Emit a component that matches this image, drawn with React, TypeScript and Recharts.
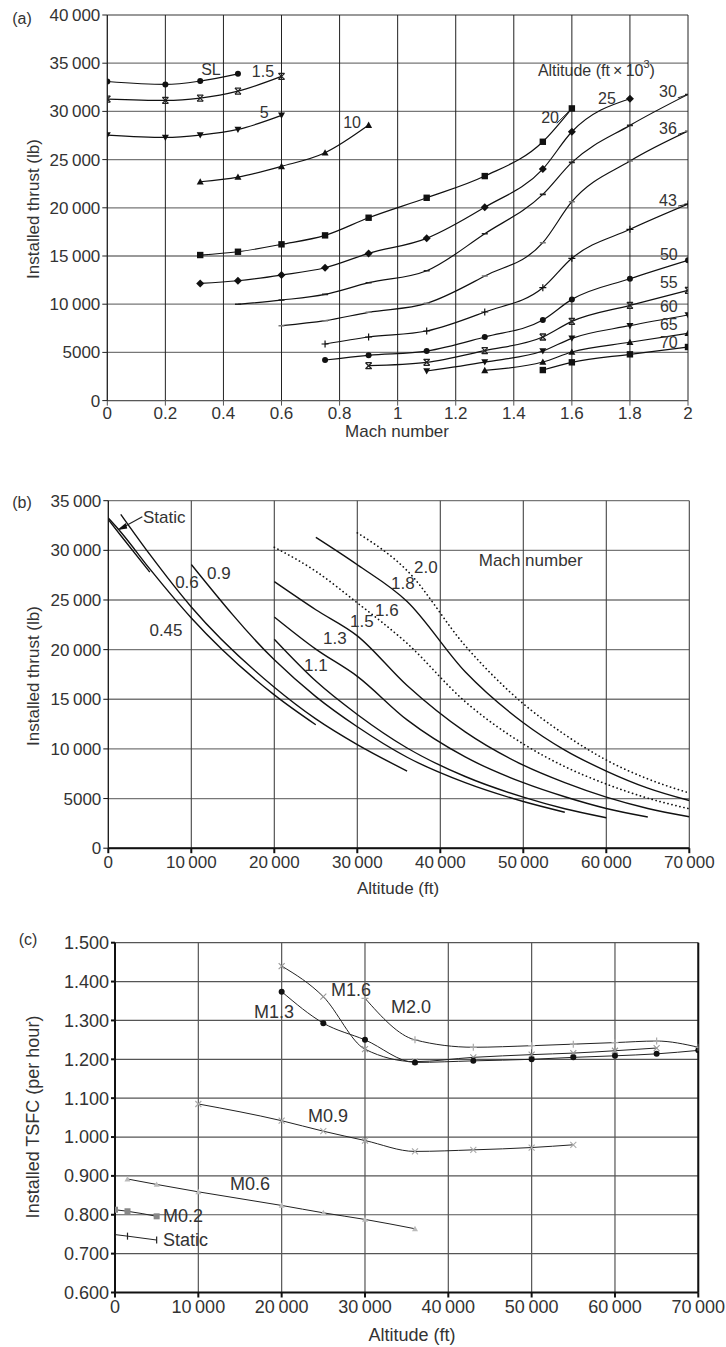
import React from 'react';
import { LineChart, Line, XAxis, YAxis, CartesianGrid, ReferenceDot, ReferenceLine, Customized } from 'recharts';

const FONT = "'Liberation Sans', Arial, sans-serif";
const TXT = '#333';

// ---------- Panel (a): thrust vs Mach, per altitude ----------
const A_MACH_TICKS = [0, 0.2, 0.4, 0.6, 0.8, 1, 1.2, 1.4, 1.6, 1.8, 2];
const A_THRUST_TICKS = [0, 5000, 10000, 15000, 20000, 25000, 30000, 35000, 40000];

const A_SL_MACH = [0, 0.2, 0.32, 0.45];
const A_SL_THRUST = [33100, 32800, 33150, 33900];
const A_1_5_MACH = [0, 0.2, 0.32, 0.45, 0.6];
const A_1_5_THRUST = [31280, 31140, 31380, 32100, 33630];
const A_5_MACH = [0, 0.2, 0.32, 0.45, 0.6];
const A_5_THRUST = [27540, 27300, 27540, 28130, 29590];
const A_10_MACH = [0.32, 0.45, 0.6, 0.75, 0.9];
const A_10_THRUST = [22700, 23190, 24300, 25710, 28580];
const A_20_MACH = [0.32, 0.45, 0.6, 0.75, 0.9, 1.1, 1.3, 1.5, 1.6];
const A_20_THRUST = [15100, 15440, 16210, 17140, 18970, 21040, 23290, 26850, 30310];
const A_25_MACH = [0.32, 0.45, 0.6, 0.75, 0.9, 1.1, 1.3, 1.5, 1.6, 1.8];
const A_25_THRUST = [12160, 12430, 13020, 13780, 15270, 16830, 20050, 24020, 27890, 31310];
const A_30_MACH = [0.45, 0.6, 0.75, 0.9, 1.1, 1.3, 1.5, 1.6, 1.8, 2.0];
const A_30_THRUST = [9990, 10430, 11020, 12230, 13470, 17310, 21390, 24710, 28550, 31760];
const A_36_MACH = [0.6, 0.75, 0.9, 1.1, 1.3, 1.5, 1.6, 1.8, 2.0];
const A_36_THRUST = [7770, 8290, 9160, 10090, 12920, 16380, 20630, 24850, 27960];
const A_43_MACH = [0.75, 0.9, 1.1, 1.3, 1.5, 1.6, 1.8, 2.0];
const A_43_THRUST = [5870, 6600, 7220, 9190, 11710, 14760, 17770, 20390];
const A_50_MACH = [0.75, 0.9, 1.1, 1.3, 1.5, 1.6, 1.8, 2.0];
const A_50_THRUST = [4210, 4700, 5140, 6600, 8360, 10500, 12640, 14550];
const A_55_MACH = [0.9, 1.1, 1.3, 1.5, 1.6, 1.8, 2.0];
const A_55_THRUST = [3620, 3970, 5180, 6600, 8220, 9880, 11440];
const A_60_MACH = [1.1, 1.3, 1.5, 1.6, 1.8, 2.0];
const A_60_THRUST = [3070, 4000, 5140, 6460, 7770, 8880];
const A_65_MACH = [1.3, 1.5, 1.6, 1.8, 2.0];
const A_65_THRUST = [3140, 4000, 5040, 6050, 6980];
const A_70_MACH = [1.5, 1.6, 1.8, 2.0];
const A_70_THRUST = [3170, 3970, 4800, 5560];

// ---------- Panel (b): thrust vs altitude, per Mach ----------
const B_ALT_TICKS = [0, 10000, 20000, 30000, 40000, 50000, 60000, 70000];
const B_THRUST_TICKS = [0, 5000, 10000, 15000, 20000, 25000, 30000, 35000];

const B_STATIC_ALT = [0, 1500, 5000];
const B_STATIC_THRUST = [33100, 31500, 27800];
const B_045_ALT = [0, 1500, 5000, 10000, 20000, 25000];
const B_045_THRUST = [33250, 31850, 28130, 23190, 15440, 12430];
const B_06_ALT = [1500, 5000, 10000, 20000, 25000, 30000, 36000];
const B_06_THRUST = [33630, 29590, 24300, 16210, 13020, 10430, 7770];
const B_09_ALT = [10000, 20000, 25000, 30000, 36000, 43000, 50000, 55000];
const B_09_THRUST = [28580, 18970, 15270, 12230, 9160, 6600, 4700, 3620];
const B_11_ALT = [20000, 25000, 30000, 36000, 43000, 50000, 55000, 60000];
const B_11_THRUST = [21040, 16830, 13470, 10090, 7220, 5140, 3970, 3070];
const B_13_ALT = [20000, 25000, 30000, 36000, 43000, 50000, 55000, 60000, 65000];
const B_13_THRUST = [23290, 20050, 17310, 12920, 9190, 6600, 5180, 4000, 3140];
const B_15_ALT = [20000, 25000, 30000, 36000, 43000, 50000, 55000, 60000, 65000, 70000];
const B_15_THRUST = [26850, 24020, 21390, 16380, 11710, 8360, 6600, 5140, 4000, 3170];
const B_16_ALT = [20000, 25000, 30000, 36000, 43000, 50000, 55000, 60000, 65000, 70000];
const B_16_THRUST = [30310, 27890, 24710, 20630, 14760, 10500, 8220, 6460, 5040, 3970];
const B_18_ALT = [25000, 30000, 36000, 43000, 50000, 55000, 60000, 65000, 70000];
const B_18_THRUST = [31310, 28550, 24850, 17770, 12640, 9880, 7770, 6050, 4800];
const B_20_ALT = [30000, 36000, 43000, 50000, 55000, 60000, 65000, 70000];
const B_20_THRUST = [31760, 27960, 20390, 14550, 11440, 8880, 6980, 5560];

// ---------- Panel (c): TSFC vs altitude ----------
const C_ALT_TICKS = [0, 10000, 20000, 30000, 40000, 50000, 60000, 70000];
const C_TSFC_TICKS = [0.6, 0.7, 0.8, 0.9, 1.0, 1.1, 1.2, 1.3, 1.4, 1.5];

const C_M16_ALT = [20000, 25000, 30000, 36000, 43000, 50000, 55000, 60000, 65000];
const C_M16_TSFC = [1.44, 1.361, 1.226, 1.194, 1.205, 1.212, 1.216, 1.222, 1.229];
const C_M13_ALT = [20000, 25000, 30000, 36000, 43000, 50000, 55000, 60000, 65000, 70000];
const C_M13_TSFC = [1.374, 1.293, 1.25, 1.192, 1.196, 1.2, 1.205, 1.209, 1.214, 1.223];
const C_M20_ALT = [30000, 36000, 43000, 50000, 55000, 60000, 65000, 70000];
const C_M20_TSFC = [1.357, 1.25, 1.231, 1.235, 1.239, 1.243, 1.247, 1.231];
const C_M09_ALT = [10000, 20000, 25000, 30000, 36000, 43000, 50000, 55000];
const C_M09_TSFC = [1.085, 1.042, 1.015, 0.991, 0.963, 0.967, 0.973, 0.98];
const C_M06_ALT = [1500, 5000, 10000, 20000, 25000, 30000, 36000];
const C_M06_TSFC = [0.892, 0.878, 0.859, 0.824, 0.805, 0.788, 0.764];
const C_M02_ALT = [0, 1500, 5000];
const C_M02_TSFC = [0.813, 0.809, 0.796];
const C_STATIC_ALT = [0, 1500, 5000];
const C_STATIC_TSFC = [0.749, 0.745, 0.735];

// ---------- helpers ----------
const pts = (xs: number[], ys: number[]) => xs.map((x, i) => ({ x, y: ys[i] }));

const fmtK = (v: number) =>
  v >= 10000 ? `${Math.floor(v / 1000)}\u2009${String(v % 1000).padStart(3, '0')}` : String(v);

type Kind = 'circle' | 'star' | 'triDown' | 'triUp' | 'square' | 'diamond' | 'dash' | 'plus' | 'cross' | 'vbar' | 'none';

function marker(kind: Kind, cx: number, cy: number, c: string, s: number) {
  switch (kind) {
    case 'circle':
      return <circle cx={cx} cy={cy} r={s} fill={c} />;
    case 'star':
      return (
        <g stroke={c} strokeWidth={1.3}>
          <line x1={cx - s} y1={cy - s} x2={cx + s} y2={cy + s} />
          <line x1={cx - s} y1={cy + s} x2={cx + s} y2={cy - s} />
          <line x1={cx - s} y1={cy - s} x2={cx + s} y2={cy - s} />
          <line x1={cx - s} y1={cy + s} x2={cx + s} y2={cy + s} />
        </g>
      );
    case 'triDown':
      return <polygon points={`${cx - s},${cy - s * 0.8} ${cx + s},${cy - s * 0.8} ${cx},${cy + s}`} fill={c} />;
    case 'triUp':
      return <polygon points={`${cx - s},${cy + s * 0.8} ${cx + s},${cy + s * 0.8} ${cx},${cy - s}`} fill={c} />;
    case 'square':
      return <rect x={cx - s} y={cy - s} width={2 * s} height={2 * s} fill={c} />;
    case 'diamond':
      return <polygon points={`${cx},${cy - s} ${cx + s},${cy} ${cx},${cy + s} ${cx - s},${cy}`} fill={c} />;
    case 'dash':
      return <line x1={cx - s} y1={cy} x2={cx + s} y2={cy} stroke={c} strokeWidth={1.6} />;
    case 'plus':
      return (
        <g stroke={c} strokeWidth={1.2}>
          <line x1={cx - s} y1={cy} x2={cx + s} y2={cy} />
          <line x1={cx} y1={cy - s} x2={cx} y2={cy + s} />
        </g>
      );
    case 'cross':
      return (
        <g stroke={c} strokeWidth={1.1}>
          <line x1={cx - s} y1={cy - s} x2={cx + s} y2={cy + s} />
          <line x1={cx - s} y1={cy + s} x2={cx + s} y2={cy - s} />
        </g>
      );
    case 'vbar':
      return <line x1={cx} y1={cy - s} x2={cx} y2={cy + s} stroke={c} strokeWidth={1.2} />;
    default:
      return null;
  }
}

const dotOf = (kind: Kind, color: string, s: number) => (p: any) => (
  <g key={`${kind}-${p.index}-${p.cx}`}>{marker(kind, p.cx, p.cy, color, s)}</g>
);

function tag(key: string, x: number, y: number, text: React.ReactNode, size: number, anchor: 'start' | 'middle' | 'end' = 'middle') {
  return (
    <ReferenceDot
      key={key}
      x={x}
      y={y}
      r={0}
      ifOverflow="visible"
      shape={(p: any) => (
        <text
          x={p.cx}
          y={p.cy}
          textAnchor={anchor}
          dominantBaseline="central"
          fontSize={size}
          fontFamily={FONT}
          fill={TXT}
        >
          {text}
        </text>
      )}
    />
  );
}

function seg(key: string, x1: number, y1: number, x2: number, y2: number, w = 1) {
  return (
    <ReferenceLine
      key={key}
      segment={[{ x: x1, y: y1 }, { x: x2, y: y2 }]}
      stroke="#222"
      strokeWidth={w}
      ifOverflow="visible"
    />
  );
}

const Texts = ({ items }: { items: { x: number; y: number; t: React.ReactNode; s: number; r?: boolean }[] }) => (
  <g>
    {items.map((it, i) => (
      <text
        key={i}
        x={it.x}
        y={it.y}
        textAnchor="middle"
        dominantBaseline="central"
        fontSize={it.s}
        fontFamily={FONT}
        fill={TXT}
        transform={it.r ? `rotate(-90 ${it.x} ${it.y})` : undefined}
      >
        {it.t}
      </text>
    ))}
  </g>
);

const tickA = { fontSize: 17, fill: TXT, fontFamily: FONT };
const tickC = { fontSize: 18, fill: TXT, fontFamily: FONT };

// ---------- Chart (a) ----------
function ChartA() {
  const series: [number[], number[], Kind, string, number][] = [
    [A_SL_MACH, A_SL_THRUST, 'circle', '#111', 3],
    [A_1_5_MACH, A_1_5_THRUST, 'star', '#222', 3],
    [A_5_MACH, A_5_THRUST, 'triDown', '#111', 3.5],
    [A_10_MACH, A_10_THRUST, 'triUp', '#111', 3.5],
    [A_20_MACH, A_20_THRUST, 'square', '#111', 3.2],
    [A_25_MACH, A_25_THRUST, 'diamond', '#111', 4],
    [A_30_MACH, A_30_THRUST, 'dash', '#222', 3],
    [A_36_MACH, A_36_THRUST, 'dash', '#777', 3],
    [A_43_MACH, A_43_THRUST, 'plus', '#111', 3.5],
    [A_50_MACH, A_50_THRUST, 'circle', '#111', 3],
    [A_55_MACH, A_55_THRUST, 'star', '#222', 3],
    [A_60_MACH, A_60_THRUST, 'triDown', '#111', 3.5],
    [A_65_MACH, A_65_THRUST, 'triUp', '#111', 3.5],
    [A_70_MACH, A_70_THRUST, 'square', '#111', 3.2],
  ];
  return (
    <LineChart width={726} height={445} margin={{ top: 15, right: 38, bottom: 4.4, left: 7.3 }}>
      <CartesianGrid vertical={false} stroke="#777" strokeWidth={1.3} />
      <CartesianGrid horizontal={false} stroke="#222" strokeWidth={1} />
      <XAxis
        type="number"
        dataKey="x"
        domain={[0, 2]}
        ticks={A_MACH_TICKS}
        tickFormatter={(v: number) => String(Number(v.toFixed(1)))}
        height={40}
        tickSize={5}
        tickMargin={1}
        stroke="#555"
        tick={tickA}
        allowDataOverflow
      />
      <YAxis
        type="number"
        dataKey="y"
        domain={[0, 40000]}
        ticks={A_THRUST_TICKS}
        tickFormatter={fmtK}
        width={100}
        tickSize={5}
        tickMargin={2}
        stroke="#222"
        tick={tickA}
        allowDataOverflow
      />
      {series.map(([xs, ys, k, c, s], i) => (
        <Line
          key={i}
          data={pts(xs, ys)}
          dataKey="y"
          type="monotone"
          stroke="#111"
          strokeWidth={1.2}
          dot={dotOf(k, c, s)}
          activeDot={false}
          isAnimationActive={false}
        />
      ))}
      {tag('sl', 0.357, 34300, 'SL', 16)}
      {tag('l15', 0.536, 34090, '1.5', 16)}
      {tag('l5', 0.54, 29920, '5', 16)}
      {tag('l10', 0.843, 28890, '10', 16)}
      {tag('l20', 1.525, 29410, '20', 16)}
      {tag('l25', 1.721, 31290, '25', 16)}
      {tag('l30', 1.931, 32110, '30', 16)}
      {tag('l36', 1.931, 28270, '36', 16)}
      {tag('l43', 1.931, 20800, '43', 16)}
      {tag('l50', 1.934, 15150, '50', 16)}
      {tag('l55', 1.934, 12250, '55', 16)}
      {tag('l60', 1.934, 9750, '60', 16)}
      {tag('l65', 1.934, 7850, '65', 16)}
      {tag('l70', 1.934, 6050, '70', 16)}
      {tag(
        'alt',
        1.483,
        34290,
        <>
          Altitude (ft{'\u2009'}×{'\u2009'}10<tspan dy={-6} fontSize={11}>3</tspan>
          <tspan dy={6}>)</tspan>
        </>,
        16,
        'start'
      )}
      {seg('s20', 1.548, 28760, 1.6, 30310)}
      {seg('s30', 1.965, 31400, 2.0, 31760)}
      {seg('s36', 1.966, 27620, 2.0, 27960)}
      {seg('s43', 1.966, 20180, 2.0, 20390)}
      <Customized
        component={
          <Texts
            items={[
              { x: 22, y: 18, t: '(a)', s: 16 },
              { x: 33, y: 209, t: 'Installed thrust (lb)', s: 17, r: true },
              { x: 397, y: 431, t: 'Mach number', s: 17 },
            ]}
          />
        }
      />
    </LineChart>
  );
}

// ---------- Chart (b) ----------
function ChartB() {
  const solid: [number[], number[]][] = [
    [B_STATIC_ALT, B_STATIC_THRUST],
    [B_045_ALT, B_045_THRUST],
    [B_06_ALT, B_06_THRUST],
    [B_09_ALT, B_09_THRUST],
    [B_11_ALT, B_11_THRUST],
    [B_13_ALT, B_13_THRUST],
    [B_15_ALT, B_15_THRUST],
    [B_18_ALT, B_18_THRUST],
  ];
  const dotted: [number[], number[]][] = [
    [B_16_ALT, B_16_THRUST],
    [B_20_ALT, B_20_THRUST],
  ];
  return (
    <LineChart width={726} height={450} margin={{ top: 50.7, right: 36.7, bottom: 21.8, left: 8.3 }}>
      <CartesianGrid vertical={false} stroke="#777" strokeWidth={1.3} />
      <CartesianGrid horizontal={false} stroke="#444" strokeWidth={1.1} />
      <XAxis
        type="number"
        dataKey="x"
        domain={[0, 70000]}
        ticks={B_ALT_TICKS}
        tickFormatter={fmtK}
        height={30}
        tickSize={5}
        tickMargin={3}
        stroke="#111"
        strokeWidth={2}
        tick={tickA}
        allowDataOverflow
      />
      <YAxis
        type="number"
        dataKey="y"
        domain={[0, 35000]}
        ticks={B_THRUST_TICKS}
        tickFormatter={fmtK}
        width={100}
        tickSize={5}
        tickMargin={2}
        stroke="#111"
        tick={tickA}
        allowDataOverflow
      />
      {solid.map(([xs, ys], i) => (
        <Line
          key={`s${i}`}
          data={pts(xs, ys)}
          dataKey="y"
          type="monotone"
          stroke="#111"
          strokeWidth={1.4}
          dot={false}
          activeDot={false}
          isAnimationActive={false}
        />
      ))}
      {dotted.map(([xs, ys], i) => (
        <Line
          key={`d${i}`}
          data={pts(xs, ys)}
          dataKey="y"
          type="monotone"
          stroke="#111"
          strokeWidth={1.7}
          strokeDasharray="0.1 4"
          strokeLinecap="round"
          dot={false}
          activeDot={false}
          isAnimationActive={false}
        />
      ))}
      {tag('st', 4180, 33350, 'Static', 17, 'start')}
      {seg('arrow', 4100, 33390, 1400, 32150, 1.2)}
      <ReferenceDot
        x={1080}
        y={32050}
        r={0}
        ifOverflow="visible"
        shape={(p: any) => (
          <polygon
            points={`${p.cx},${p.cy} ${p.cx + 8.5},${p.cy - 7} ${p.cx + 10},${p.cy - 1.5}`}
            fill="#111"
          />
        )}
      />
      {tag('b045', 6950, 21880, '0.45', 17)}
      {tag('b06', 9480, 26810, '0.6', 17)}
      {tag('b09', 13330, 27620, '0.9', 17)}
      {tag('b11', 25010, 18450, '1.1', 17)}
      {tag('b13', 27300, 21170, '1.3', 17)}
      {tag('b15', 30550, 22880, '1.5', 17)}
      {tag('b16', 33560, 23990, '1.6', 17)}
      {tag('b18', 35490, 26710, '1.8', 17)}
      {tag('b20', 38260, 28320, '2.0', 17)}
      {tag('bmn', 50900, 29020, 'Mach number', 17)}
      <Customized
        component={
          <Texts
            items={[
              { x: 22, y: 52, t: '(b)', s: 16 },
              { x: 33, y: 226, t: 'Installed thrust (lb)', s: 17, r: true },
              { x: 398, y: 438, t: 'Altitude (ft)', s: 17 },
            ]}
          />
        }
      />
    </LineChart>
  );
}

// ---------- Chart (c) ----------
function ChartC() {
  const series: [number[], number[], Kind, string, number][] = [
    [C_M16_ALT, C_M16_TSFC, 'cross', '#999', 3],
    [C_M13_ALT, C_M13_TSFC, 'circle', '#111', 3],
    [C_M20_ALT, C_M20_TSFC, 'plus', '#aaa', 3.5],
    [C_M09_ALT, C_M09_TSFC, 'cross', '#aaa', 3],
    [C_M06_ALT, C_M06_TSFC, 'triUp', '#bbb', 3],
    [C_M02_ALT, C_M02_TSFC, 'square', '#888', 3],
    [C_STATIC_ALT, C_STATIC_TSFC, 'vbar', '#222', 3.5],
  ];
  return (
    <LineChart width={726} height={467} margin={{ top: 62.7, right: 27.7, bottom: 24.5, left: 15 }}>
      <CartesianGrid vertical={false} stroke="#555" strokeWidth={1.2} />
      <CartesianGrid horizontal={false} stroke="#555" strokeWidth={1.2} />
      <XAxis
        type="number"
        dataKey="x"
        domain={[0, 70000]}
        ticks={C_ALT_TICKS}
        tickFormatter={fmtK}
        height={30}
        tickSize={5}
        tickMargin={3}
        stroke="#111"
        strokeWidth={2}
        tick={tickC}
        allowDataOverflow
      />
      <YAxis
        type="number"
        dataKey="y"
        domain={[0.6, 1.5]}
        ticks={C_TSFC_TICKS}
        tickFormatter={(v: number) => v.toFixed(3)}
        width={100}
        tickSize={4}
        tickMargin={2}
        stroke="#111"
        strokeWidth={2}
        tick={tickC}
        allowDataOverflow
      />
      <ReferenceLine x={70000} stroke="#111" strokeWidth={2} />
      {series.map(([xs, ys, k, c, s], i) => (
        <Line
          key={i}
          data={pts(xs, ys)}
          dataKey="y"
          type="monotone"
          stroke="#222"
          strokeWidth={1}
          dot={dotOf(k, c, s)}
          activeDot={false}
          isAnimationActive={false}
        />
      ))}
      {tag('c16', 28320, 1.378, 'M1.6', 18)}
      {tag('c13', 19080, 1.322, 'M1.3', 18)}
      {tag('c20', 35520, 1.335, 'M2.0', 18)}
      {tag('c09', 25560, 1.055, 'M0.9', 18)}
      {tag('c06', 16200, 0.88, 'M0.6', 18)}
      {tag('c02', 5760, 0.798, 'M0.2', 18, 'start')}
      {tag('cst', 5760, 0.734, 'Static', 18, 'start')}
      <Customized
        component={
          <Texts
            items={[
              { x: 28, y: 59, t: '(c)', s: 16 },
              { x: 33, y: 237, t: 'Installed TSFC (per hour)', s: 18, r: true },
              { x: 412, y: 455, t: 'Altitude (ft)', s: 18 },
            ]}
          />
        }
      />
    </LineChart>
  );
}

export default function App() {
  return (
    <div style={{ position: 'absolute', left: 0, top: 0, width: 726, height: 1347, background: '#fff' }}>
      <div style={{ position: 'absolute', left: 0, top: 0 }}>
        <ChartA />
      </div>
      <div style={{ position: 'absolute', left: 0, top: 450 }}>
        <ChartB />
      </div>
      <div style={{ position: 'absolute', left: 0, top: 880 }}>
        <ChartC />
      </div>
    </div>
  );
}
